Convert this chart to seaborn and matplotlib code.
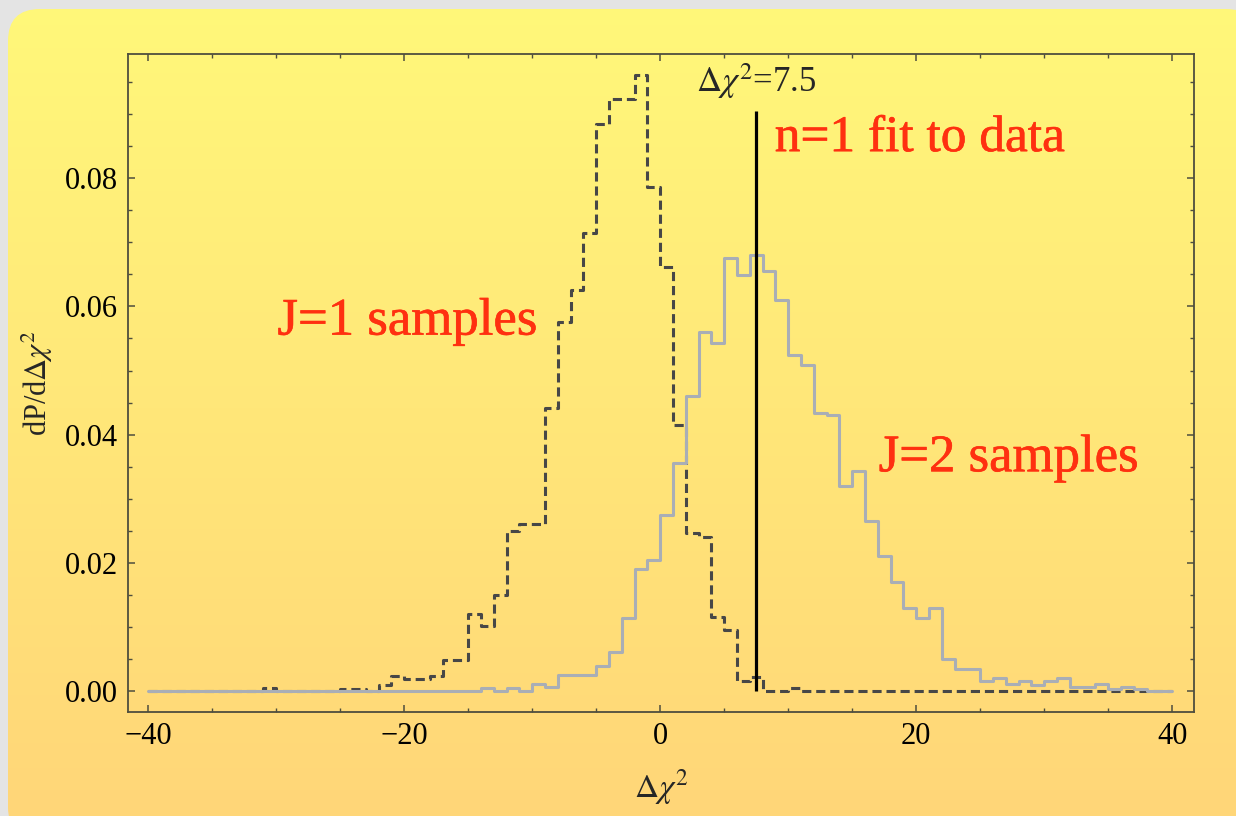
import numpy as np
import pandas as pd
import seaborn as sns
import matplotlib.pyplot as plt
import matplotlib.patheffects as pe
from matplotlib.patches import FancyBboxPatch
from matplotlib.ticker import MultipleLocator, FormatStrFormatter

# Histogram bin edges (unit-width bins from -40 to 40)
bin_edges = list(range(-40, 41))
bin_centers = [e + 0.5 for e in bin_edges[:-1]]

# dP/dDelta chi^2 per bin (bins -40 .. 39)
j1_density = [
    0, 0, 0, 0, 0, 0, 0, 0, 0, 0.0005,            # -40 .. -31
    0, 0, 0, 0, 0, 0.0004, 0.0004, 0, 0.0009, 0.0024,  # -30 .. -21
    0.0019, 0.0019, 0.0024, 0.0049, 0.0049, 0.0121, 0.0101, 0.0150, 0.0250, 0.0260,  # -20 .. -11
    0.0260, 0.0441, 0.0576, 0.0625, 0.0715, 0.0884, 0.0924, 0.0924, 0.0960, 0.0786,  # -10 .. -1
    0.0661, 0.0415, 0.0246, 0.0241, 0.0116, 0.0095, 0.0016, 0.0023, 0, 0,  # 0 .. 9
    0.0005, 0, 0, 0, 0, 0, 0, 0, 0, 0,            # 10 .. 19
    0, 0, 0, 0, 0, 0, 0, 0, 0, 0,                 # 20 .. 29
    0, 0, 0, 0, 0, 0, 0, 0, 0, 0,                 # 30 .. 39
]
j2_density = [
    0, 0, 0, 0, 0, 0, 0, 0, 0, 0,                 # -40 .. -31
    0, 0, 0, 0, 0, 0, 0, 0, 0, 0,                 # -30 .. -21
    0, 0, 0, 0, 0, 0, 0.0005, 0, 0.0005, 0,       # -20 .. -11
    0.0011, 0.0006, 0.0026, 0.0026, 0.0026, 0.0040, 0.0061, 0.0114, 0.0190, 0.0204,  # -10 .. -1
    0.0275, 0.0356, 0.0460, 0.0560, 0.0543, 0.0675, 0.0649, 0.0680, 0.0655, 0.0610,  # 0 .. 9
    0.0524, 0.0509, 0.0433, 0.0430, 0.0320, 0.0344, 0.0266, 0.0211, 0.0170, 0.0130,  # 10 .. 19
    0.0114, 0.0130, 0.0051, 0.0035, 0.0035, 0.0016, 0.0020, 0.0012, 0.0016, 0.0010,  # 20 .. 29
    0.0016, 0.0020, 0.0006, 0.0006, 0.0011, 0.0003, 0.0006, 0.0003, 0, 0,  # 30 .. 39
]

fit_value = 7.5
fit_line_top = 0.0904

df = pd.DataFrame({'center': bin_centers, 'j1': j1_density, 'j2': j2_density})

sns.set_style('ticks')
plt.rcParams['font.family'] = ['Liberation Serif', 'DejaVu Serif']
plt.rcParams['mathtext.fontset'] = 'stix'

red = '#ff3010'
frame_col = '#4e4e3e'

fig = plt.figure(figsize=(12.36, 8.16), dpi=100)
fig.patch.set_facecolor('#e4e4e4')

# rounded yellow gradient panel behind the plot
bg = fig.add_axes([0, 0, 1, 1], zorder=-1)
bg.set_xlim(0, 1236)
bg.set_ylim(816, 0)
bg.axis('off')
top_rgb = np.array([255, 248, 122]) / 255
bot_rgb = np.array([255, 214, 120]) / 255
t = np.linspace(0, 1, 256)[:, None, None]
grad = top_rgb * (1 - t) + bot_rgb * t
im = bg.imshow(grad, extent=[0, 1236, 816, 0], aspect='auto')
panel = FancyBboxPatch((8, 9), 1250, 830, boxstyle='round,pad=0,rounding_size=32',
                       facecolor='none', edgecolor='none', transform=bg.transData)
bg.add_patch(panel)
im.set_clip_path(panel)

ax = fig.add_axes([0.1033, 0.1277, 0.8627, 0.8066])
ax.set_facecolor('none')

sns.histplot(data=df, x='center', weights='j1', bins=bin_edges, element='step',
             fill=False, color='#474747', linewidth=2.2, linestyle=(0, (3.0, 1.6)), ax=ax)
sns.histplot(data=df, x='center', weights='j2', bins=bin_edges, element='step',
             fill=False, color='#a9aeb6', linewidth=2.2, ax=ax)

ax.vlines(fit_value, 0, fit_line_top, color='black', linewidth=2.3)

ax.text(fit_value, 0.0934, r'$\Delta\chi^2$=7.5', ha='center', va='baseline', fontsize=25)

# slightly heavier strokes for the red annotations
bold_fx = [pe.withStroke(linewidth=0.45, foreground=red)]
ax.text(8.95, 0.0842, 'n=1 fit to data', color=red, fontsize=37, ha='left',
        va='baseline', path_effects=bold_fx)
ax.text(-29.9, 0.0556, 'J=1 samples', color=red, fontsize=38, ha='left',
        va='baseline', path_effects=bold_fx)
ax.text(17.07, 0.0343, 'J=2 samples', color=red, fontsize=38, ha='left',
        va='baseline', path_effects=bold_fx)

ax.set_xlim(-41.6, 41.7)
ax.set_ylim(-0.0032, 0.0994)

ax.xaxis.set_major_locator(MultipleLocator(20))
ax.xaxis.set_minor_locator(MultipleLocator(5))
ax.yaxis.set_major_locator(MultipleLocator(0.02))
ax.yaxis.set_minor_locator(MultipleLocator(0.005))
ax.yaxis.set_major_formatter(FormatStrFormatter('%.2f'))

ax.tick_params(which='both', direction='in', top=True, right=True, color=frame_col,
               labelsize=22, labelcolor='black')
ax.tick_params(which='major', length=5, width=1.1, pad=7)
ax.tick_params(which='minor', length=3, width=1.0)
for s in ax.spines.values():
    s.set_color(frame_col)
    s.set_linewidth(1.3)

ax.set_xlabel(r'$\Delta\chi^2$', fontsize=24, labelpad=12)
ax.set_ylabel(r'dP/d$\Delta\chi^2$', fontsize=22, labelpad=7)

fig.savefig('out.png', dpi=100, facecolor=fig.get_facecolor())
